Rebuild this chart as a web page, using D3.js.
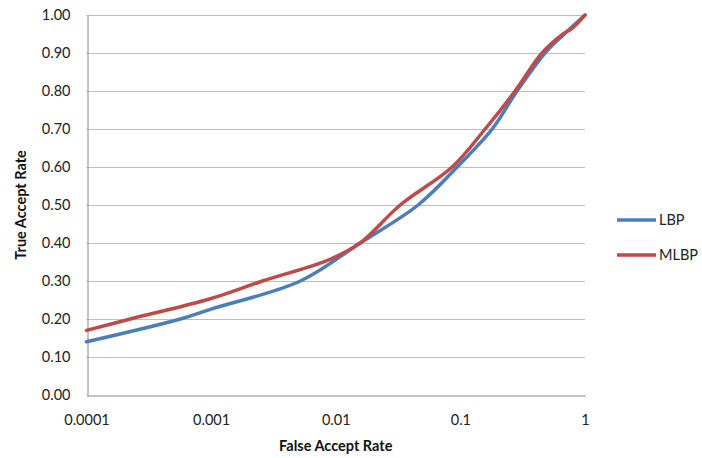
<!DOCTYPE html>
<html>
<head>
<meta charset="utf-8">
<script src="https://cdn.jsdelivr.net/npm/d3@7"></script>
<style>
  body { margin: 0; background: #fff; }
  svg { display: block; font-family: Lato, "Noto Sans", sans-serif; }
</style>
</head>
<body>
<svg id="chart" width="702" height="458"></svg>
<script>
"use strict";

// false accept rate (x) and true accept rate (y)
var lbpFar = [0.0001, 0.000567, 0.001, 0.0052, 0.0157, 0.0458, 0.0942, 0.18, 0.285, 0.478, 0.667, 1];
var lbpTar = [0.14, 0.20, 0.226, 0.30, 0.40, 0.50, 0.60, 0.70, 0.80, 0.90, 0.947, 1.0];

var mlbpFar = [0.0001, 0.000225, 0.001, 0.00258, 0.009, 0.0157, 0.0329, 0.0859, 0.158, 0.275, 0.452, 0.667, 0.787, 1];
var mlbpTar = [0.17, 0.20, 0.254, 0.30, 0.357, 0.40, 0.50, 0.60, 0.70, 0.80, 0.90, 0.95, 0.965, 1.0];

var xTicks = [0.0001, 0.001, 0.01, 0.1, 1];
var xTickLabels = ['0.0001', '0.001', '0.01', '0.1', '1'];
var yTicks = [0, 0.1, 0.2, 0.3, 0.4, 0.5, 0.6, 0.7, 0.8, 0.9, 1.0];

var seriesNames = ['LBP', 'MLBP'];
var seriesColors = ['#4a7ebb', '#be4b48'];

var margin = { top: 15, left: 86.5, right: 117, bottom: 63 };
var width = 702, height = 458;

var svg = d3.select('#chart');

var x = d3.scaleLog()
    .domain([0.0001, 1])
    .range([margin.left, width - margin.right]);

var y = d3.scaleLinear()
    .domain([0, 1])
    .range([height - margin.bottom, margin.top]);

// horizontal gridlines
svg.append('g')
    .attr('class', 'grid')
    .selectAll('line')
    .data(yTicks.filter(function(d) { return d > 0; }))
    .enter()
    .append('line')
    .attr('x1', x.range()[0])
    .attr('x2', x.range()[1])
    .attr('y1', function(d) { return Math.round(y(d)) + 0.5; })
    .attr('y2', function(d) { return Math.round(y(d)) + 0.5; })
    .attr('stroke', '#bebebe')
    .attr('stroke-width', 1);

// y axis
var yAxis = d3.axisLeft(y)
    .tickValues(yTicks)
    .tickFormat(d3.format('.2f'))
    .tickSize(0)
    .tickPadding(17);

var yAxisG = svg.append('g')
    .attr('transform', 'translate(' + (Math.round(margin.left) + 0.5) + ',0)')
    .call(yAxis);

// x axis
var xAxis = d3.axisBottom(x)
    .tickValues(xTicks)
    .tickFormat(function(d, i) { return xTickLabels[i]; })
    .tickSize(0)
    .tickPadding(19);

var xAxisG = svg.append('g')
    .attr('transform', 'translate(0,' + (Math.round(y(0)) + 0.5) + ')')
    .call(xAxis);

[yAxisG, xAxisG].forEach(function(g) {
    g.select('.domain').attr('stroke', '#868686').attr('stroke-width', 1);
    g.selectAll('text')
        .attr('fill', '#222')
        .style('font-size', '14.5px')
        .style('font-family', 'Lato, "Noto Sans", sans-serif');
});

// axis titles
svg.append('text')
    .attr('x', x(0.01))
    .attr('y', 451)
    .attr('text-anchor', 'middle')
    .style('font-size', '14.5px')
    .style('font-weight', 'bold')
    .attr('fill', '#111')
    .text('False Accept Rate');

svg.append('text')
    .attr('transform', 'translate(26,' + y(0.5) + ') rotate(-90)')
    .attr('text-anchor', 'middle')
    .style('font-size', '14.5px')
    .style('font-weight', 'bold')
    .attr('fill', '#111')
    .text('True Accept Rate');

// series
var line = d3.line()
    .x(function(d) { return x(d[0]); })
    .y(function(d) { return y(d[1]); })
    .curve(d3.curveCatmullRom.alpha(0.5));

var series = [
    d3.zip(lbpFar, lbpTar),
    d3.zip(mlbpFar, mlbpTar)
];

svg.append('g')
    .selectAll('path')
    .data(series)
    .enter()
    .append('path')
    .attr('d', line)
    .attr('fill', 'none')
    .attr('stroke', function(d, i) { return seriesColors[i]; })
    .attr('stroke-width', 3.5)
    .attr('stroke-linejoin', 'round')
    .attr('stroke-linecap', 'round');

// legend
var legend = svg.append('g')
    .attr('transform', 'translate(617,220)');

var item = legend.selectAll('g')
    .data(seriesNames)
    .enter()
    .append('g')
    .attr('transform', function(d, i) { return 'translate(0,' + (i * 35) + ')'; });

item.append('line')
    .attr('x1', 0)
    .attr('x2', 39)
    .attr('stroke', function(d, i) { return seriesColors[i]; })
    .attr('stroke-width', 3.5);

item.append('text')
    .attr('x', 42)
    .attr('dy', '0.35em')
    .style('font-size', '14.5px')
    .attr('fill', '#222')
    .text(function(d) { return d; });
</script>
</body>
</html>
